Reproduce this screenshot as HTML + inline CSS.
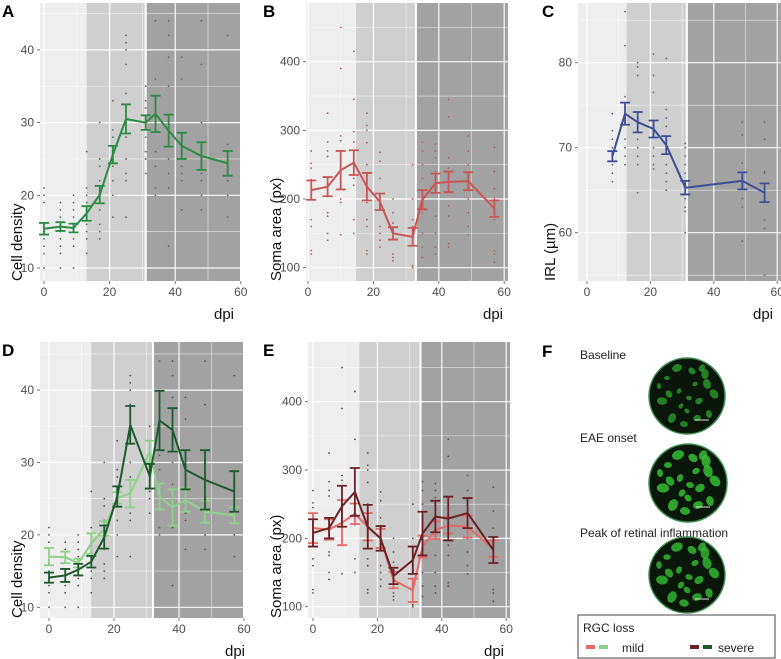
<!DOCTYPE html>
<html><head><meta charset="utf-8">
<style>
html,body{margin:0;padding:0;background:#fff;}
svg{display:block;font-family:"Liberation Sans",sans-serif;}
</style></head>
<body>
<svg id="fig" width="781" height="659" viewBox="0 0 781 659" xmlns="http://www.w3.org/2000/svg">
<g id="panelF">
  <text x="542" y="357" font-size="17" font-weight="bold">F</text>
  <text x="580" y="359" font-size="12" fill="#222">Baseline</text>
  <text x="580" y="442" font-size="12" fill="#222">EAE onset</text>
  <text x="580" y="537" font-size="12" fill="#222">Peak of retinal inflammation</text>
  <g id="circles"></g>
  <rect x="578" y="615" width="197" height="43" fill="#fff" stroke="#444" stroke-width="1"/>
  <text x="583" y="632" font-size="12" fill="#222">RGC loss</text>
  <rect x="586" y="645" width="9" height="4" fill="#e66a6a"/>
  <rect x="599" y="645" width="9" height="4" fill="#8fd08a"/>
  <text x="622" y="652" font-size="12" fill="#222">mild</text>
  <rect x="690" y="645" width="9" height="4" fill="#6b2226"/>
  <rect x="703" y="645" width="9" height="4" fill="#1d5a2e"/>
  <text x="718" y="652" font-size="12" fill="#222">severe</text>
</g>
</svg>
<script>
// ---------- data ----------
const dpiA = [0,5,9,13,17,21,25,31,34,38,42,48,56];
const meanA = [15.4,15.7,15.5,17.5,20.1,25.6,30.5,30.0,31.2,28.9,26.8,25.4,24.4];
const errA = [0.8,0.6,0.6,1.0,1.2,1.2,2.0,1.0,2.5,2.2,1.8,1.9,1.7];
const dotsA = [[21,20,19,16,15,14,13,12,10],[19,18,17,15,14,13,12,10],[20,19,18,17,16,15,14,13,10],[26,21,20,19,18,17,16,15,14,12],[30,25,24,22,20,18,16,15,14],[33,29,28,26,25,24,22,20,17],[42,41,40,38,34,30,28,25,23,22,17],[35,33,32,30,28,26,25,23],[44,36,31,29,26,24,21,20],[44,42,39,35,30,27,25,23,21,13],[39,36,28,26,24,23,22,18],[44,38,30,25,23,22,20,18],[42,27,25,23,22,20,17]];

const dpiB = [1,6,10,14,18,22,26,32,35,39,43,49,57];
const meanB = [213,218,242,253,218,196,150,145,199,223,225,226,186];
const errB = [14,14,28,18,20,12,9,13,14,14,15,13,12];
const dotsB = [[270,252,245,228,200,170,160,125,120],[325,283,270,262,215,180,175,150,140],[450,390,292,285,265,218,200,195,148],[415,345,298,283,230,220,170,150],[325,307,300,282,250,195,170,160,125,120],[268,255,230,190,160,150,140,130],[200,180,165,150,120,115,110],[250,200,170,160,140,103,100],[283,270,250,230,210,180,150,130,115],[280,270,260,240,215,175,150,130,120],[345,320,260,245,215,190,175,135,130],[292,270,250,230,200,180,160,148],[275,240,215,200,170,125,120,108]];

const dpiC = [8,12,16,21,25,31,49,56];
const meanC = [69.0,74.0,73.0,72.2,70.3,65.3,66.1,64.7];
const errC = [0.6,1.3,1.2,1.0,1.06,0.8,1.0,1.1];
const dotsC = [[74,72,71,70,69,68,67,66],[86,82,76,73,71,70,69,68],[80,79.5,78.5,74,71,70,69,68,64.7],[81,78.5,76.5,72,70,69,68,67.5],[80.5,74.5,73.5,72.5,68,67,66,65],[70.5,70,69,68,67,65,64,63,62.5,60],[73,71.5,68.2,64,63,59],[73,71,67.2,67,61.5,60.5,55]];

const dpiD = [0,5,9,13,17,21,25,31,34,38,42,48,57];
const meanDsevere = [14.1,14.4,15.2,16.3,19.7,25.3,35.2,28.1,35.8,34.5,29.0,27.6,26.0];
const errDsevere = [0.7,0.9,0.8,0.8,1.6,1.4,2.6,1.7,4.1,3.0,2.7,4.1,2.8];
const meanDmild = [17.0,16.9,16.1,18.8,20.9,25.1,25.7,31.5,25.3,23.8,24.8,23.2,22.7];
const errDmild = [1.2,0.8,0.6,1.4,1.0,0.8,1.9,1.5,1.8,2.5,1.6,1.5,1.1];

const dpiE = [0,5,9,13,17,21,25,31,34,38,42,48,56];
const meanEsevere = [208,215,247,268,217,200,145,168,207,232,229,237,183];
const errEsevere = [20,15,30,35,32,18,12,20,32,23,32,22,19];
const meanEmild = [215,213,223,236,217,200,139,124,188,212,219,217,185];
const errEmild = [22,15,33,15,20,14,12,17,16,13,12,16,12];

// ---------- rendering ----------
const NS = 'http://www.w3.org/2000/svg';
const fig = document.getElementById('fig');
function mk(tag, attrs, parent){
  const e = document.createElementNS(NS, tag);
  for (const k in attrs) e.setAttribute(k, attrs[k]);
  (parent||fig).appendChild(e);
  return e;
}

function panel(cfg){
  const g = mk('g', {});
  
  
  const xs = v => cfg.x0 + cfg.xk * v;
  const ys = v => cfg.y0 - (v - cfg.v0) * cfg.yk;
  const L = cfg.left, R = cfg.right, T = cfg.top, B = cfg.bottom;
  const b1 = xs(cfg.bands[0]), b2 = xs(cfg.bands[1]);
  const r1 = mk('rect', {x:L, y:T, width:b1-L, height:B-T, fill:'#eeeeee'}, g);
  
  
  const r2 = mk('rect', {x:b1, y:T, width:b2-b1, height:B-T, fill:'#cfcfcf'}, g);
  
  
  const r3 = mk('rect', {x:b2, y:T, width:R-b2, height:B-T, fill:'#a2a2a2'}, g);
  
  
  for (let v = cfg.gMin; v <= cfg.gMax + 1e-9; v += cfg.gStep){
    const y = ys(v);
    if (y < T || y > B) continue;
    const major = cfg.yticks.indexOf(v) >= 0;
    const gl = mk('line', {x1:L, x2:R, y1:y, y2:y, stroke:'#fff', 'stroke-width': major?1.2:0.6, opacity: major?0.95:0.7}, g);
    
    
  }
  for (let v = 0; v <= 60; v += 10){
    const x = xs(v);
    if (x < L || x > R) continue;
    const major = v % 20 === 0;
    const gl = mk('line', {x1:x, x2:x, y1:T, y2:B, stroke:'#fff', 'stroke-width': major?1.2:0.6, opacity: major?0.95:0.7}, g);
    
    
  }
  const bl = mk('line', {x1:b2, x2:b2, y1:T, y2:B, stroke:'#fff', 'stroke-width':2}, g);
  
  
  cfg.yticks.forEach(v => {
    const y = ys(v);
    const t = mk('text', {x:L-6, y:y+4, 'font-size':12, fill:'#4d4d4d', 'text-anchor':'end'}, g);
    t.textContent = v;
    
    
    const tk = mk('line', {x1:L-3, x2:L, y1:y, y2:y, stroke:'#555', 'stroke-width':0.8}, g);
    
    
  });
  [0,20,40,60].forEach(v => {
    const x = xs(v);
    const t = mk('text', {x:x, y:B+15, 'font-size':12, fill:'#4d4d4d', 'text-anchor':'middle'}, g);
    t.textContent = v;
    
    
    const tk = mk('line', {x1:x, x2:x, y1:B, y2:B+3, stroke:'#555', 'stroke-width':0.8}, g);
    
    
  });
  const xt = mk('text', {x:cfg.dpiX, y:B+38, 'font-size':15, fill:'#111', 'text-anchor':'middle'}, g);
  xt.textContent = 'dpi';
  
  
  const yt = mk('text', {x:0, y:0, 'font-size':15, fill:'#111', 'text-anchor':'start', transform:'translate('+cfg.ytX+','+B+') rotate(-90)'}, g);
  yt.textContent = cfg.ytitle;
  
  
  const lt = mk('text', {x:cfg.letterX, y:T+14, 'font-size':17, 'font-weight':'bold', fill:'#000'}, g);
  lt.textContent = cfg.id.toUpperCase();
  
  
  if (cfg.dots){
    cfg.dots.forEach((arr, i) => {
      arr.forEach(v => {
        const y = ys(v);
        if (y < T || y > B) return;
        const d = mk('circle', {cx:xs(cfg.series[0].dpi[i]), cy:y, r:0.9, fill:cfg.dotColor}, g);
        
        
      });
    });
  }
  cfg.series.forEach(s => {
    const pts = s.dpi.map((d,i) => xs(d).toFixed(1)+','+ys(s.mean[i]).toFixed(1)).join(' ');
    const pl = mk('polyline', {points:pts, fill:'none', stroke:s.color, 'stroke-width':2, 'stroke-linejoin':'round'}, g);
    
    
    s.dpi.forEach((d,i) => {
      const x = xs(d), y1 = ys(s.mean[i]+s.err[i]), y2 = ys(s.mean[i]-s.err[i]);
      const eb = mk('path', {d:'M'+(x-5)+','+y1+'H'+(x+5)+'M'+x+','+y1+'V'+y2+'M'+(x-5)+','+y2+'H'+(x+5), stroke:s.color, 'stroke-width':1.8, fill:'none'}, g);
      
      
    });
  });
}

panel({id:'a', x0:44, xk:3.28, y0:268, v0:10, yk:7.27, left:40, right:240, top:3, bottom:281, bands:[13,31],
  gMin:10, gMax:45, gStep:5, yticks:[10,20,30,40], dpiX:224, ytX:22, letterX:2, ytitle:'Cell density',
  dots:dotsA, dotColor:'#5b6e5b', series:[{name:'cell-density', dpi:dpiA, mean:meanA, err:errA, color:'#2e8b46'}]});
panel({id:'b', x0:308, xk:3.27, y0:267.7, v0:100, yk:0.6867, left:306, right:508, top:3, bottom:281, bands:[14.7,33],
  gMin:100, gMax:450, gStep:50, yticks:[100,200,300,400], dpiX:493, ytX:281, letterX:263, ytitle:'Soma area (px)',
  dots:dotsB, dotColor:'#a86262', series:[{name:'soma-area', dpi:dpiB, mean:meanB, err:errB, color:'#c95656'}]});
panel({id:'c', x0:587, xk:3.17, y0:147.7, v0:70, yk:8.5, left:578, right:781, top:3, bottom:281, bands:[12.5,31.5],
  gMin:55, gMax:85, gStep:5, yticks:[60,70,80], dpiX:763, ytX:555, letterX:542, ytitle:'IRL (\u00b5m)',
  dots:dotsC, dotColor:'#6a6a7a', series:[{name:'irl', dpi:dpiC, mean:meanC, err:errC, color:'#3d4f96'}]});
panel({id:'d', x0:49, xk:3.25, y0:607.3, v0:10, yk:7.24, left:40, right:243, top:342, bottom:618, bands:[13,32],
  gMin:10, gMax:45, gStep:5, yticks:[10,20,30,40], dpiX:235, ytX:22, letterX:2, ytitle:'Cell density',
  dots:dotsA, dotColor:'#555',
  series:[{name:'mild-green', dpi:dpiD, mean:meanDmild, err:errDmild, color:'#8fd08a'},
          {name:'severe-green', dpi:dpiD, mean:meanDsevere, err:errDsevere, color:'#1d5a2e'}]});
panel({id:'e', x0:313, xk:3.22, y0:606.7, v0:100, yk:0.6833, left:308, right:510, top:342, bottom:618, bands:[14.4,33.4],
  gMin:100, gMax:450, gStep:50, yticks:[100,200,300,400], dpiX:494, ytX:281, letterX:263, ytitle:'Soma area (px)',
  dots:dotsB, dotColor:'#6a4a4a',
  series:[{name:'mild-red', dpi:dpiE, mean:meanEmild, err:errEmild, color:'#e66a6a'},
          {name:'severe-red', dpi:dpiE, mean:meanEsevere, err:errEsevere, color:'#6b2226'}]});

// micrograph circles (decorative)
const circG = document.getElementById('circles');
const circles = [[687,396,38,0.3],[688,483,39,0.8],[687,575,38,0.7]];
const blobs = [[-20,-18],[5,-25],[20,-12],[-8,-5],[12,5],[-25,5],[0,15],[22,18],[-15,22],[8,-12],[-3,28],[27,-2],[-28,-10],[15,-28],[-10,-28],[2,2],[-18,-2],[18,-22],[-6,10],[10,22]];
circles.forEach((c,ci) => {
  const base = mk('circle', {cx:c[0], cy:c[1], r:c[2], fill:'#0b160b', stroke:'#3d8f4f', 'stroke-width':1.5}, circG);
  
  
  blobs.forEach((b,bi) => {
    const rr = 2.2 + (bi % 3) * 1.1 + c[3]*2.2;
    const bl = mk('ellipse', {cx:c[0]+b[0], cy:c[1]+b[1], rx:rr, ry:rr*0.75, fill:'#36c236', opacity:0.5+c[3]*0.4, transform:'rotate('+(bi*37)+' '+(c[0]+b[0])+' '+(c[1]+b[1])+')'}, circG);
    
    
  });
  const sb = mk('line', {x1:c[0]+8, x2:c[0]+22, y1:c[1]+24, y2:c[1]+24, stroke:'#ddd', 'stroke-width':1}, circG);
  
  
});
</script>
</body></html>
